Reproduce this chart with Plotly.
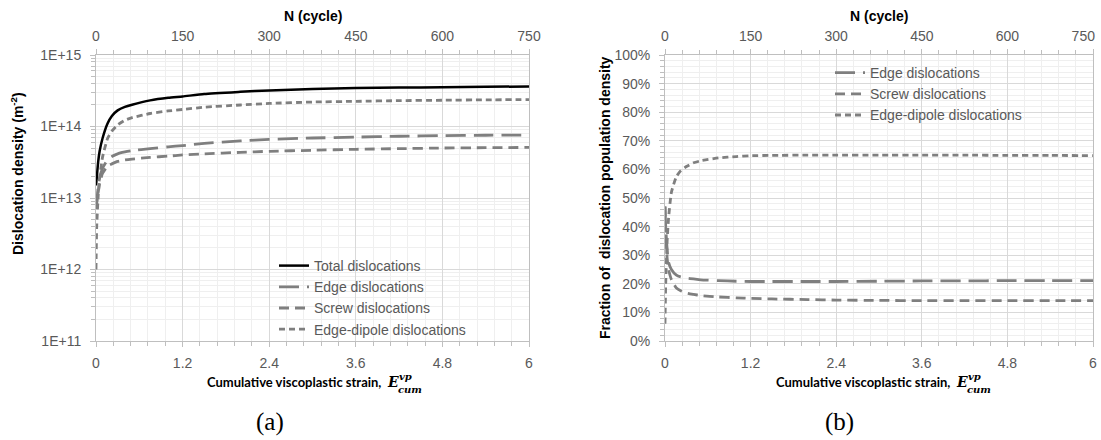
import plotly.graph_objects as go

# ---------------- data ----------------
strain = [0, 0.01, 0.03, 0.05, 0.09, 0.16, 0.22, 0.3, 0.4, 0.5, 0.75, 1.0, 1.2, 1.5,
          2.0, 2.4, 3.0, 3.6, 4.2, 4.8, 5.4, 6.0]

total_density = [1.5e13, 1.9e13, 3.2e13, 4.5e13, 6.8e13, 1.1e14, 1.4e14, 1.68e14,
                 1.88e14, 2.02e14, 2.32e14, 2.52e14, 2.63e14, 2.85e14, 3.05e14,
                 3.2e14, 3.35e14, 3.45e14, 3.5e14, 3.55e14, 3.6e14, 3.62e14]
edge_density = [7e12, 9e12, 1.4e13, 1.9e13, 2.6e13, 3.4e13, 3.8e13, 4.15e13, 4.4e13,
                4.6e13, 4.9e13, 5.2e13, 5.4e13, 5.8e13, 6.3e13, 6.6e13, 6.9e13,
                7.1e13, 7.3e13, 7.45e13, 7.55e13, 7.6e13]
screw_density = [7e12, 8.5e12, 1.2e13, 1.6e13, 2.2e13, 2.8e13, 3.0e13, 3.25e13, 3.4e13,
                 3.5e13, 3.7e13, 3.85e13, 4.0e13, 4.15e13, 4.35e13, 4.5e13, 4.65e13,
                 4.8e13, 4.9e13, 5.0e13, 5.05e13, 5.1e13]
dipole_density = [1.0e12, 4e12, 1.05e13, 1.9e13, 3.7e13, 6.8e13, 8.6e13, 1.05e14,
                  1.22e14, 1.33e14, 1.52e14, 1.65e14, 1.73e14, 1.86e14, 2.0e14, 2.1e14,
                  2.2e14, 2.25e14, 2.3e14, 2.33e14, 2.36e14, 2.38e14]

edge_frac = [47, 40, 32, 27.5, 25, 23, 22.4, 22, 21.7, 21.4, 21.1, 20.9, 20.8, 20.8,
             20.8, 20.8, 20.9, 21, 21, 21.1, 21.1, 21.1]
screw_frac = [47, 38, 29, 25, 21.5, 18.5, 17.6, 16.8, 16.3, 15.9, 15.4, 15.1, 14.9,
              14.7, 14.5, 14.3, 14.2, 14.1, 14.1, 14.1, 14.1, 14.1]
dipole_frac = [6, 20, 35, 43, 52, 57.5, 59.5, 61, 62.3, 63, 64, 64.5, 64.8,
               64.9, 65, 65, 65, 65, 65, 64.9, 64.9, 64.8]

strain_ticks = [0, 1.2, 2.4, 3.6, 4.8, 6]
strain_labels = ["0", "1.2", "2.4", "3.6", "4.8", "6"]
cycle_ticks = [0, 150, 300, 450, 600, 750]
cycle_labels = ["0", "150", "300", "450", "600", "750"]
cycle_labels_right = ["0", "150", "300", "450", "600",
                      "750&nbsp;&nbsp;&nbsp;&nbsp;&nbsp;"]
density_ticks = [1e11, 1e12, 1e13, 1e14, 1e15]
density_labels = ["1E+11", "1E+12", "1E+13", "1E+14", "1E+15"]
frac_ticks = [0, 10, 20, 30, 40, 50, 60, 70, 80, 90, 100]
frac_labels = ["0%", "10%", "20%", "30%", "40%", "50%", "60%", "70%", "80%", "90%",
               "100%"]

left_names = ["Total dislocations", "Edge dislocations", "Screw dislocations",
              "Edge-dipole dislocations"]
right_names = ["Edge dislocations", "Screw dislocations", "Edge-dipole dislocations"]

# ---------------- styling ----------------
W, H = 1101, 440
def px(x):
    return x / W
def py(y):
    return (H - y) / H

GRAY = "#7f7f7f"
TICKC = "#595959"
GRID = "#d9d9d9"
MINOR = "#efefef"
AXLINE = "#bfbfbf"
FONT = "Liberation Sans"

styles = {
    "Total dislocations": dict(color="black", dash="solid", width=2.5),
    "Edge dislocations": dict(color=GRAY, dash="20px,8px", width=2.8),
    "Screw dislocations": dict(color=GRAY, dash="10px,6px", width=2.8),
    "Edge-dipole dislocations": dict(color=GRAY, dash="6px,4px", width=2.8),
}

fig = go.Figure()

left_series = [total_density, edge_density, screw_density, dipole_density]
for name, vals in zip(left_names, left_series):
    fig.add_trace(go.Scatter(x=strain, y=vals, mode="lines", name=name,
                             line=dict(**styles[name], shape="spline", smoothing=0.5),
                             xaxis="x", yaxis="y", legend="legend"))

right_series = [edge_frac, screw_frac, dipole_frac]
for name, vals in zip(right_names, right_series):
    fig.add_trace(go.Scatter(x=strain, y=vals, mode="lines", name=name,
                             line=dict(**styles[name], shape="spline", smoothing=0.5),
                             xaxis="x2", yaxis="y2", legend="legend2"))

# invisible traces so the top (cycle) axes are drawn
fig.add_trace(go.Scatter(x=cycle_ticks, y=[1e13] * len(cycle_ticks), mode="markers",
                         marker=dict(opacity=0), showlegend=False, hoverinfo="skip",
                         xaxis="x3", yaxis="y"))
fig.add_trace(go.Scatter(x=cycle_ticks, y=[50] * len(cycle_ticks), mode="markers",
                         marker=dict(opacity=0), showlegend=False, hoverinfo="skip",
                         xaxis="x4", yaxis="y2"))

xl = [px(96), px(529)]
xr = [px(665), px(1093)]
yd = [py(341), py(55)]

tickfont = dict(family=FONT, size=14, color=TICKC)

def xbottom(domain, anchor):
    return dict(domain=domain, anchor=anchor, range=[0, 6], tickvals=strain_ticks,
                ticktext=strain_labels, showgrid=True, gridcolor=GRID, gridwidth=1,
                zeroline=False, showline=True, linecolor=AXLINE, linewidth=1,
                ticks="outside", ticklen=5, tickcolor=AXLINE, tickfont=tickfont,
                ticklabelstandoff=4, automargin=False, ticklabeloverflow="allow",
                minor=dict(dtick=0.24, tick0=0, showgrid=True, gridcolor=MINOR,
                           ticks="outside", ticklen=4, tickcolor=AXLINE))

def xtop(over, anchor, labels):
    return dict(overlaying=over, anchor=anchor, side="top", range=[0, 750],
                tickvals=cycle_ticks, ticktext=labels, showgrid=False,
                zeroline=False, showline=True,
                linecolor=AXLINE, linewidth=1, ticks="outside", ticklen=5,
                tickcolor=AXLINE, tickfont=tickfont, ticklabelstandoff=2,
                automargin=False, ticklabeloverflow="allow",
                minor=dict(dtick=30, tick0=0, ticks="outside", ticklen=4,
                           tickcolor=AXLINE, showgrid=False))

fig.update_layout(
    width=W, height=H,
    margin=dict(l=0, r=0, t=0, b=0, autoexpand=False),
    paper_bgcolor="white", plot_bgcolor="white",
    font=dict(family=FONT, color=TICKC),
    xaxis=xbottom(xl, "y"),
    xaxis2=xbottom(xr, "y2"),
    xaxis3=xtop("x", "y", cycle_labels),
    xaxis4=xtop("x2", "y2", cycle_labels_right),
    yaxis=dict(domain=yd, anchor="x", type="log", range=[11, 15],
               tickvals=density_ticks, ticktext=density_labels, showgrid=True,
               gridcolor=GRID, zeroline=False, showline=True, linecolor=AXLINE,
               mirror=True, ticks="outside", ticklen=5, tickcolor=AXLINE,
               tickfont=tickfont, ticklabelstandoff=6, automargin=False,
               minor=dict(dtick="D1", showgrid=True, gridcolor=MINOR,
                          ticks="outside", ticklen=4, tickcolor=AXLINE)),
    yaxis2=dict(domain=yd, anchor="x2", range=[0, 100], tickvals=frac_ticks,
                ticktext=frac_labels, showgrid=True, gridcolor=GRID, zeroline=False,
                showline=True, linecolor=AXLINE, mirror=True, ticks="outside",
                ticklen=5, tickcolor=AXLINE, tickfont=tickfont, ticklabelstandoff=6,
                automargin=False,
                minor=dict(dtick=2, showgrid=True, gridcolor=MINOR,
                           ticks="outside", ticklen=4, tickcolor=AXLINE)),
    legend=dict(x=px(274), y=py(250), xanchor="left", yanchor="top",
                bgcolor="rgba(0,0,0,0)", font=dict(family=FONT, size=14, color=TICKC),
                tracegroupgap=0, itemwidth=30),
    legend2=dict(x=px(830), y=py(57), xanchor="left", yanchor="top",
                 bgcolor="rgba(0,0,0,0)", font=dict(family=FONT, size=14, color=TICKC),
                 tracegroupgap=0, itemwidth=30),
    showlegend=True,
)

# white legend boxes (cover gridlines like the original legend frames)
fig.add_shape(type="rect", xref="paper", yref="paper", x0=px(261), x1=px(524),
              y0=py(338), y1=py(254), fillcolor="white", line=dict(width=0),
              layer="between")
fig.add_shape(type="rect", xref="paper", yref="paper", x0=px(781), x1=px(1086),
              y0=py(126), y1=py(62), fillcolor="white", line=dict(width=0),
              layer="between")

ann = []
TITLE = dict(family=FONT, size=14, color="black")
for cx in (312.5, 879):
    ann.append(dict(x=px(cx), y=py(16), xref="paper", yref="paper", showarrow=False,
                    text="<b>N (cycle)</b>", font=TITLE, xanchor="center",
                    yanchor="middle"))

ann.append(dict(x=px(17), y=py(174), xref="paper", yref="paper", showarrow=False,
                text="<b>Dislocation density (m<sup>-2</sup>)</b>", textangle=-90,
                font=TITLE, xanchor="center", yanchor="middle"))
ann.append(dict(x=px(605), y=py(198), xref="paper", yref="paper", showarrow=False,
                text="<b>Fraction of  dislocation population density</b>",
                textangle=-90, font=TITLE, xanchor="center", yanchor="middle"))

for off, lab in ((0, "(a)"), (569, "(b)")):
    ex = 383 + off
    ann.append(dict(x=px(ex), y=py(382), xref="paper", yref="paper", showarrow=False,
                    text="<b>Cumulative viscoplastic strain,</b>",
                    font=dict(family="Lato", size=13, color="black"),
                    xanchor="right", yanchor="middle"))
    ann.append(dict(x=px(ex + 2), y=py(382), xref="paper", yref="paper",
                    showarrow=False, text="<b><i>E</i></b>",
                    font=dict(family="DejaVu Serif", size=14, color="black"),
                    xanchor="left", yanchor="middle"))
    ann.append(dict(x=px(ex + 14), y=py(376), xref="paper", yref="paper",
                    showarrow=False, text="<b><i>vp</i></b>",
                    font=dict(family="DejaVu Serif", size=10, color="black"),
                    xanchor="left", yanchor="middle"))
    ann.append(dict(x=px(ex + 13), y=py(389), xref="paper", yref="paper",
                    showarrow=False, text="<b><i>cum</i></b>",
                    font=dict(family="DejaVu Serif", size=10, color="black"),
                    xanchor="left", yanchor="middle"))
    ann.append(dict(x=px(270 + off), y=py(422), xref="paper", yref="paper",
                    showarrow=False, text=lab,
                    font=dict(family="Liberation Serif", size=25, color="black"),
                    xanchor="center", yanchor="middle"))

fig.update_layout(annotations=ann)

fig.write_html("out.html", config={"displayModeBar": False},
               post_script="document.body.style.margin='0px';"
                           "document.body.style.overflow='hidden';")
